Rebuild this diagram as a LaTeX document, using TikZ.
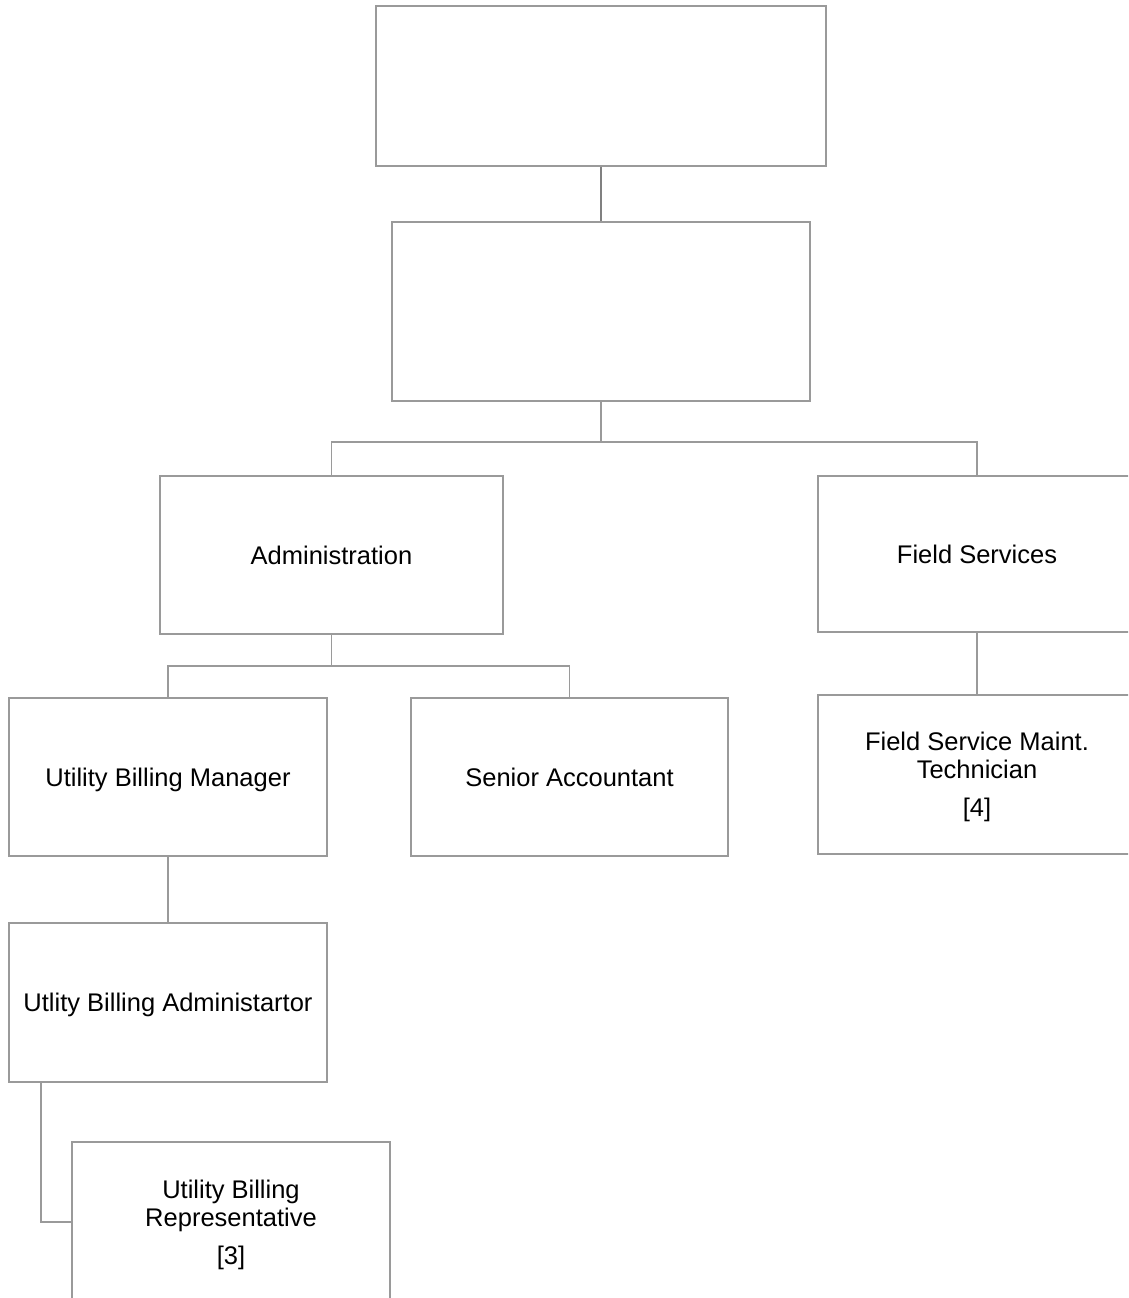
\documentclass[tikz,border=0pt]{standalone}
\usepackage{fontspec}
\setmainfont{Liberation Sans}
\definecolor{boxgray}{HTML}{9A9A9A}
\definecolor{darkline}{HTML}{808080}
\begin{document}
\begin{tikzpicture}[x=1pt,y=-1pt,
  thinbox/.style={draw=boxgray,line width=1.2pt,rectangle,inner sep=0pt,fill=white},
  thickbox/.style={draw=boxgray,line width=2.8pt,rectangle,inner sep=0pt,fill=white,align=center,
     text depth=0pt,font=\fontsize{25.5}{28}\selectfont},
  conn/.style={draw=boxgray,line width=1.6pt},
  thickconn/.style={draw=boxgray,line width=2.6pt},
  darkconn/.style={draw=darkline,line width=2.6pt}]
\useasboundingbox (0,0) rectangle (1128,1298);
\fill[white] (0,0) rectangle (1128,1298);
\clip (0,0) rectangle (1128,1298);

\node[thinbox,minimum width=450pt,minimum height=160pt] (top) at (601,86) {};
\node[thinbox,minimum width=418pt,minimum height=179pt] (mid) at (601,311.5) {};
\node[thickbox,minimum width=343pt,minimum height=158pt] (admin) at (331.5,555) {Administration};
\node[thickbox,minimum width=318pt,minimum height=156pt] (field) at (977,554) {Field Services};
\node[thickbox,minimum width=318pt,minimum height=158pt] (ubm) at (168,777) {Utility Billing Manager};
\node[thickbox,minimum width=317pt,minimum height=158pt] (sa) at (569.5,777) {Senior Accountant};
\node[thickbox,minimum width=318pt,minimum height=159pt] (fsmt) at (977,774.5) {Field Service Maint.\\Technician\\[10pt]{[4]}};
\node[thickbox,minimum width=318pt,minimum height=159pt] (uba) at (168,1002.5) {Utlity Billing Administartor};
\node[thickbox,minimum width=318pt,minimum height=160pt] (ubr) at (231,1222) {Utility Billing\\Representative\\[10pt]{[3]}};

\coordinate (j1) at (601,442);
\coordinate (j2) at (331.5,666);
\coordinate (j3) at (41,1082);

\draw[darkconn] (top.south) -- (mid.north);
\draw[conn] (mid.south) -- (j1);
\draw[conn] (j1) -| (admin.north);
\draw[conn] (j1) -| (field.north);
\draw[conn] (admin.south) -- (j2);
\draw[conn] (j2) -| (ubm.north);
\draw[conn] (j2) -| (sa.north);
\draw[thickconn] (field.south) -- (fsmt.north);
\draw[conn] (ubm.south) -- (uba.north);
\draw[conn] (j3) |- (ubr.west);
\end{tikzpicture}
\end{document}
